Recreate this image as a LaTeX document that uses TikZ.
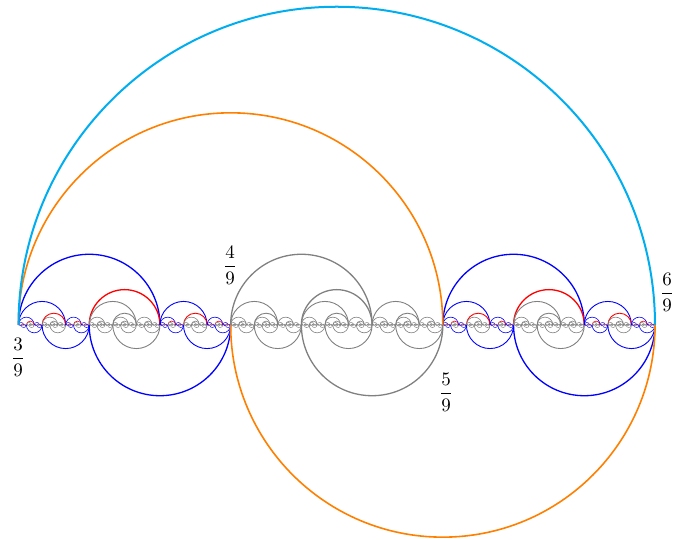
\documentclass[tikz,border=0pt]{standalone}
\definecolor{ccyan}{RGB}{0,174,239}
\definecolor{corange}{RGB}{255,128,0}
\definecolor{cblue}{RGB}{0,0,255}
\definecolor{cred}{RGB}{255,0,0}
\definecolor{cgray}{RGB}{128,128,128}
\colorlet{colb}{cblue}
\colorlet{accb}{cred}
\colorlet{colg}{cgray}
\colorlet{accg}{cgray}
\def\basey{215}
\newcommand\arcset[4]{%
  \ifnum#3>0\relax
  \begingroup
    \pgfmathsetmacro\ta{#1}%
    \pgfmathsetmacro\tL{#2}%
    \pgfmathsetmacro\tr{\tL/3}%
    \pgfmathsetmacro\ts{\tL/6}%
    \pgfmathsetmacro\tm{\ta+\tL/3}%
    \pgfmathsetmacro\tn{\ta+2*\tL/3}%
    \edef\tw{\ifcase#3\or0.3\or0.4\or0.6\or0.9\or1.3\fi}%
    \draw[col#4, line width=\tw pt] (\ta pt,\basey pt) arc[start angle=180,end angle=0,radius=\tr pt];
    \draw[col#4, line width=\tw pt] (\tm pt,\basey pt) arc[start angle=180,end angle=360,radius=\tr pt];
    \draw[acc#4, line width=\tw pt] (\tm pt,\basey pt) arc[start angle=180,end angle=0,radius=\ts pt];
    \edef\next{\noexpand\arcset{\ta}{\tr}{\the\numexpr#3-1\relax}{#4}%
      \noexpand\arcset{\tm}{\tr}{\the\numexpr#3-1\relax}{g}%
      \noexpand\arcset{\tn}{\tr}{\the\numexpr#3-1\relax}{#4}}%
    \next
  \endgroup
  \fi}
\tikzset{lab/.style={inner sep=0pt, scale=1.9}}
\begin{document}
\begin{tikzpicture}[x=1pt,y=1pt]
\useasboundingbox (0,0) rectangle (673,540);
\arcset{18.5}{212.1667}{5}{b}
\arcset{230.6667}{212.1667}{5}{g}
\arcset{442.8333}{212.1667}{5}{b}
\draw[corange, line width=1.6pt] (18.5,\basey) arc[start angle=180,end angle=0,radius=212.1667pt];
\draw[corange, line width=1.6pt] (230.6667,\basey) arc[start angle=180,end angle=360,radius=212.1667pt];
\draw[ccyan, line width=2pt] (18.5,\basey) arc[start angle=180,end angle=0,radius=318.25pt];
\node[lab] (l3) at (18,183) {$\displaystyle\frac{3}{9}$};
\node[lab] (l4) at (230,275) {$\displaystyle\frac{4}{9}$};
\node[lab] (l5) at (446,148) {$\displaystyle\frac{5}{9}$};
\node[lab] (l6) at (667,248) {$\displaystyle\frac{6}{9}$};
\end{tikzpicture}
\end{document}
